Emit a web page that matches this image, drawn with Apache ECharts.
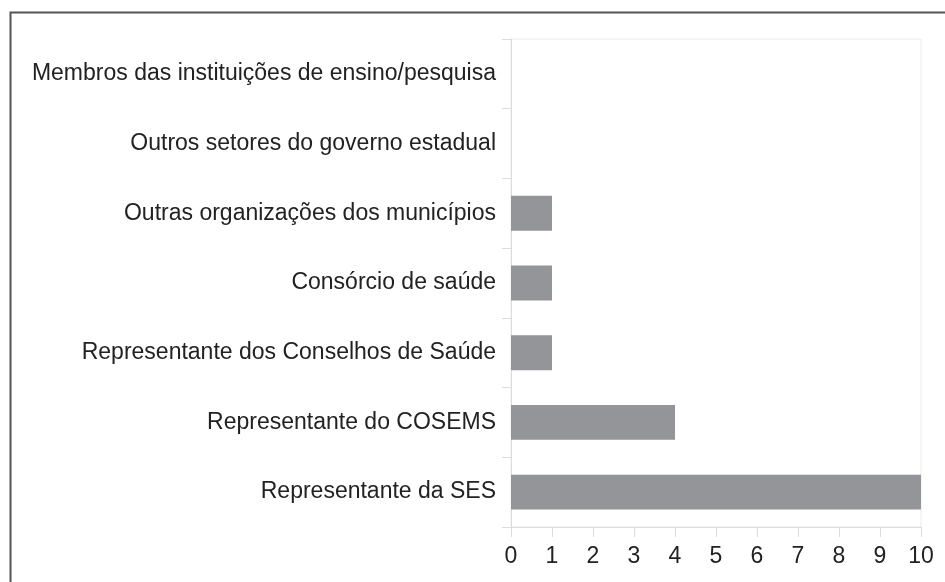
<!DOCTYPE html>
<html>
<head>
<meta charset="utf-8">
<script src="https://cdn.jsdelivr.net/npm/echarts@6/dist/echarts.min.js"></script>
<style>
  html, body { margin: 0; padding: 0; background: #fff; }
  #chart { width: 945px; height: 582px; }
</style>
</head>
<body>
<div id="chart"></div>
<script>
// categories bottom to top (ECharts category y-axis starts at the bottom)
var categories = [
  'Representante da SES',
  'Representante do COSEMS',
  'Representante dos Conselhos de Saúde',
  'Consórcio de saúde',
  'Outras organizações dos municípios',
  'Outros setores do governo estadual',
  'Membros das instituições de ensino/pesquisa'
];
var counts = [10, 4, 1, 1, 1, 0, 0];

var myChart = echarts.init(document.getElementById('chart'));

var option = {
  backgroundColor: '#fff',
  animation: false,
  graphic: [
    {
      type: 'rect',
      left: 8,
      top: 10,
      shape: { width: 960, height: 600 },
      style: { fill: 'none', stroke: '#555', lineWidth: 2 },
      silent: true
    }
  ],
  grid: {
    left: 511,
    right: 24,
    top: 39,
    bottom: 55,
    show: true,
    borderColor: '#ececec',
    borderWidth: 1
  },
  xAxis: {
    type: 'value',
    min: 0,
    max: 10,
    interval: 1,
    axisLine: { show: true, lineStyle: { color: '#dcdcdc' } },
    axisTick: { show: true, length: 10, lineStyle: { color: '#dcdcdc' } },
    splitLine: { show: false },
    axisLabel: {
      color: '#222',
      fontFamily: 'Liberation Sans, Arial, sans-serif',
      fontSize: 23,
      margin: 18
    }
  },
  yAxis: {
    type: 'category',
    data: categories,
    axisLine: { show: true, lineStyle: { color: '#dcdcdc' } },
    axisTick: { show: true, length: 9, lineStyle: { color: '#dcdcdc' } },
    axisLabel: {
      color: '#222',
      fontFamily: 'Liberation Sans, Arial, sans-serif',
      fontSize: 23,
      margin: 15
    }
  },
  series: [
    {
      type: 'bar',
      data: counts,
      barWidth: '50%',
      itemStyle: { color: '#939598' }
    }
  ]
};

myChart.setOption(option);
</script>
</body>
</html>
